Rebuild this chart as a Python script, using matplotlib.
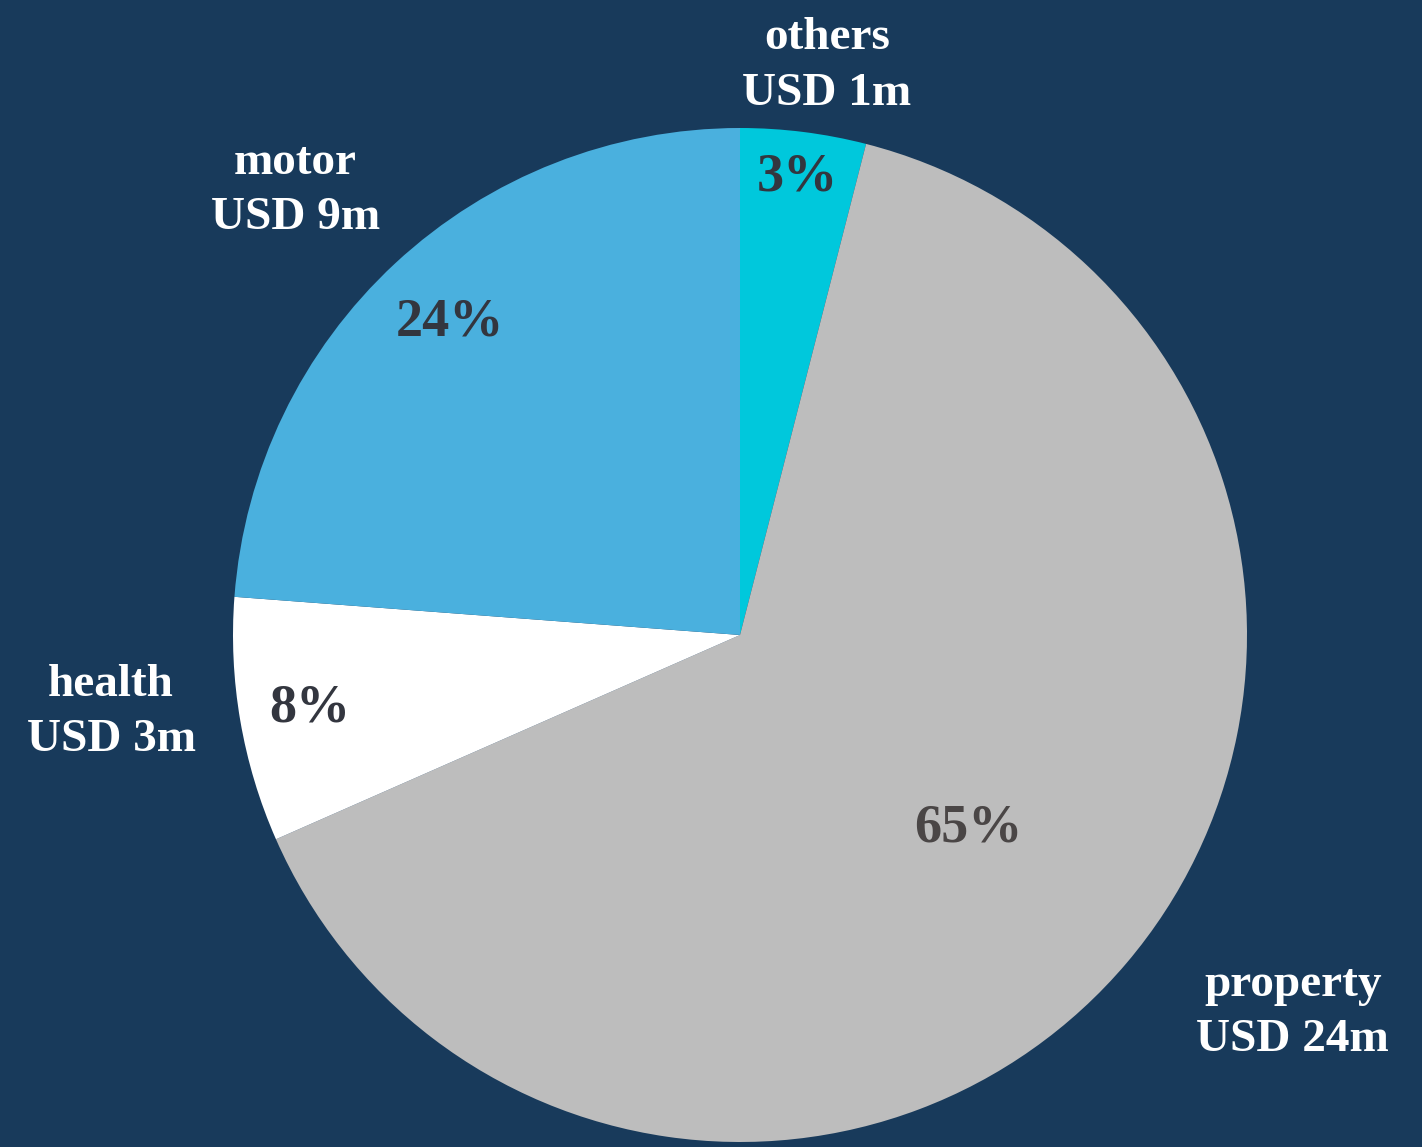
import numpy as np
import matplotlib
matplotlib.use("Agg")
import matplotlib.pyplot as plt

# slice shares (percent), clockwise from the top
categories = ["others", "property", "health", "motor"]
amounts = ["USD 1m", "USD 24m", "USD 3m", "USD 9m"]
shares = [4.0, 64.4, 7.8, 23.8]
pct_labels = ["3%", "65%", "8%", "24%"]

colors = ["#00c8dc", "#bdbdbd", "#ffffff", "#4ab0de"]
pct_colors = ["#33363f", "#4a4646", "#33363f", "#33363f"]
bg = "#183a5b"

fig = plt.figure(figsize=(14.22, 11.47), dpi=100, facecolor=bg)
ax = fig.add_axes([0, 0, 1, 1])
ax.set_facecolor(bg)

wedges, _ = ax.pie(shares, colors=colors, startangle=90, counterclock=False,
                   wedgeprops=dict(linewidth=0))

# pie radius 1 -> 507 px, centre at pixel (740, 635)
R = 507.0
cx, cy = 740.0, 1147 - 635.0
ax.set_xlim(-cx / R, (1422 - cx) / R)
ax.set_ylim(-cy / R, (1147 - cy) / R)
ax.set_aspect("auto")
ax.axis("off")

pct_dist = [0.91, 0.59, 0.86, 0.84]
lab_dist = [1.135, 1.32, 1.25, 1.24]
lab_shift = [-1.5, 6.0, -2.7, 2.2]  # degrees, nudges off the mid angle

font = "Liberation Serif"
for i, w in enumerate(wedges):
    mid = np.deg2rad((w.theta1 + w.theta2) / 2)
    ax.text(pct_dist[i] * np.cos(mid), pct_dist[i] * np.sin(mid), pct_labels[i],
            ha="center", va="center", fontsize=39, fontweight="bold",
            family=font, color=pct_colors[i])
    a = mid + np.deg2rad(lab_shift[i])
    ax.text(lab_dist[i] * np.cos(a), lab_dist[i] * np.sin(a),
            categories[i] + "\n" + amounts[i], ha="center", va="center",
            fontsize=34, fontweight="bold", family=font, color="white",
            linespacing=1.42)

fig.savefig("out.png", dpi=100, facecolor=bg)
